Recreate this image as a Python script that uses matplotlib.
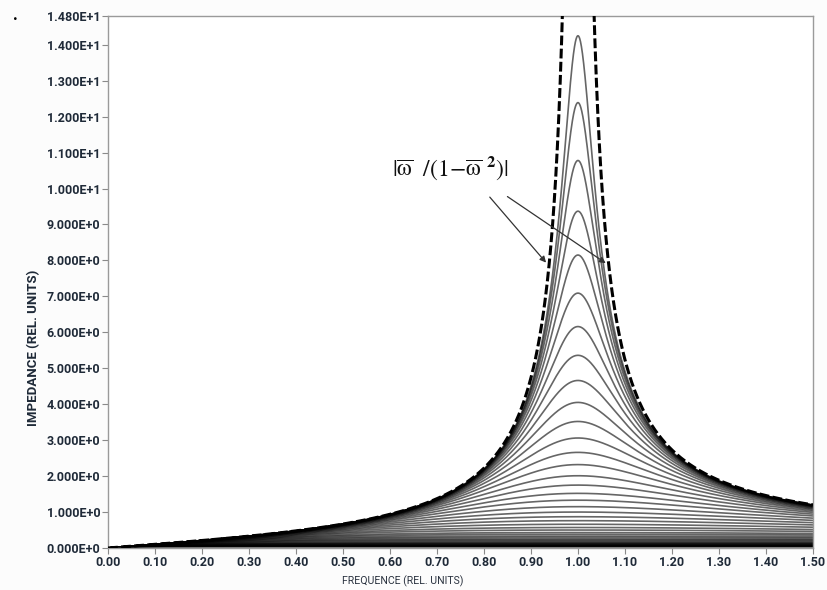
"""Impedance resonance curves for a family of quality factors."""

import numpy as np
import matplotlib.pyplot as plt

# peak heights at w = 1 (top curve -> bottom curve)
peak_values = [14.25, 12.39, 10.78, 9.37, 8.15, 7.09, 6.16, 5.36, 4.66, 4.05,
               3.52, 3.06, 2.66, 2.32, 2.01, 1.75, 1.52, 1.33, 1.15, 1.00,
               0.87, 0.76, 0.66, 0.57, 0.50, 0.43, 0.38, 0.33, 0.29, 0.25,
               0.22, 0.19, 0.16, 0.14, 0.12, 0.11, 0.095, 0.082, 0.071,
               0.062, 0.054, 0.047, 0.041, 0.035]
x_ticks = [0.00, 0.10, 0.20, 0.30, 0.40, 0.50, 0.60, 0.70, 0.80, 0.90,
           1.00, 1.10, 1.20, 1.30, 1.40, 1.50]
y_ticks = [0, 1, 2, 3, 4, 5, 6, 7, 8, 9, 10, 11, 12, 13, 14, 14.8]
y_tick_labels = ["0.000E+0", "1.000E+0", "2.000E+0", "3.000E+0", "4.000E+0",
                 "5.000E+0", "6.000E+0", "7.000E+0", "8.000E+0", "9.000E+0",
                 "1.000E+1", "1.100E+1", "1.200E+1", "1.300E+1", "1.400E+1",
                 "1.480E+1"]

INK = "#1f2a38"
plt.rcParams["font.family"] = ["Roboto", "DejaVu Sans"]
plt.rcParams["mathtext.fontset"] = "stix"

fig = plt.figure(figsize=(8.27, 5.90), dpi=100, facecolor="#fcfcfc")
ax = fig.add_axes([0.1306, 0.0712, 0.8524, 0.9017])
ax.set_facecolor("white")

w = np.linspace(0.0, 1.5, 4001)
for q in peak_values:
    z = w / np.sqrt((1 - w ** 2) ** 2 + (w / q) ** 2)
    ax.plot(w, z, color="black", alpha=0.6, lw=1.2, zorder=2)

# undamped limit, dashed
with np.errstate(divide="ignore"):
    z0 = w / np.abs(1 - w ** 2)
z0[~np.isfinite(z0)] = np.nan
ax.plot(w, z0, color="black", lw=2.2, ls=(0, (3.2, 1.1)), zorder=3)

ax.set_xlim(0, 1.5)
ax.set_ylim(0, 14.8)
ax.set_xticks(x_ticks)
ax.set_xticklabels([f"{t:.2f}" for t in x_ticks])
ax.set_yticks(y_ticks)
ax.set_yticklabels(y_tick_labels)
ax.tick_params(direction="out", length=4, width=0.8, color="#8a8a8a",
               labelsize=9, labelcolor=INK, pad=1.5)
for lab in ax.get_xticklabels() + ax.get_yticklabels():
    lab.set_fontweight("bold")
for s in ax.spines.values():
    s.set_color("#9a9a9a")
    s.set_linewidth(1.0)

ax.set_xlabel("FREQUENCE (REL. UNITS)", fontsize=7.6, color="#2b3340")
ax.xaxis.set_label_coords(0.418, -0.052)
ax.set_ylabel("IMPEDANCE (REL. UNITS)", fontsize=9.5, fontweight="bold",
              color=INK)
ax.yaxis.set_label_coords(-0.097, 0.376)

# annotation with two arrows pointing at the dashed branches
ax.text(0.604, 10.55,
        r"$|\overline{\mathrm{ω}}\ \ /(1{-}\overline{\mathrm{ω}}\ ^{\mathbf{2}})|$",
        fontsize=17, ha="left", va="center", color="#111111")
arrow = dict(arrowstyle="-|>", color="#333333", lw=0.9, mutation_scale=9)
ax.annotate("", xy=(0.936, 7.88), xytext=(0.8085, 9.82), arrowprops=arrow)
ax.annotate("", xy=(1.064, 7.88), xytext=(0.845, 9.82), arrowprops=arrow)

fig.text(0.016, 0.966, ".", fontsize=12, fontweight="bold", color="black")

fig.savefig("out.png", dpi=100, facecolor=fig.get_facecolor())
